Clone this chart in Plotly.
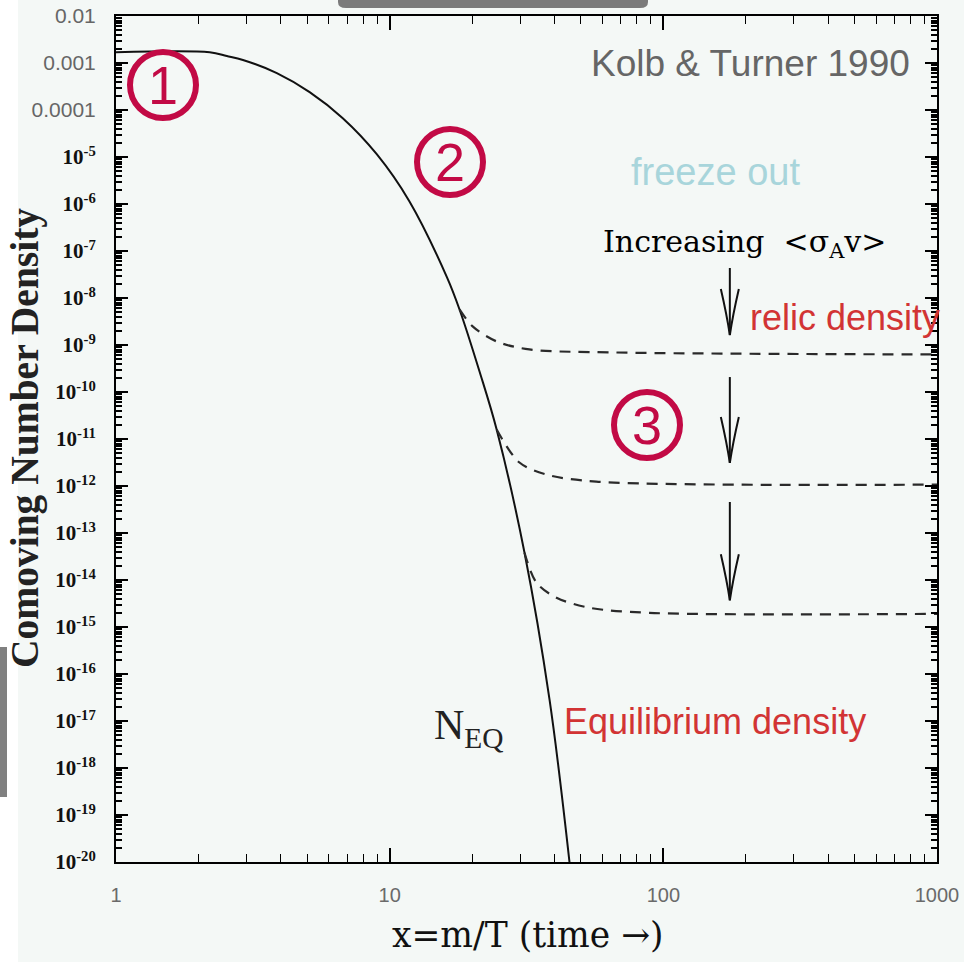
import plotly.graph_objects as go

# ---------------- data ----------------
x_eq = [1.0, 2.2, 2.54, 2.91, 3.87, 5.1, 6.74, 8.97, 11.8, 16.2, 18.0, 21.3,
        24.6, 31.1, 38.4, 45.4]
y_eq = [1.7e-3, 1.7e-3, 1.41e-3, 1.16e-3, 6.1e-4, 2.4e-4, 6.7e-5, 1.15e-5, 1.15e-6, 2.75e-8,
        5.7e-9, 2.73e-10, 1.59e-11, 3.81e-14, 2.8e-17, 1e-20]

x_relic1 = [18.0, 20.1, 24.6, 32.4, 65.2, 1000]
y_relic1 = [5.7e-9, 2.49e-9, 1.19e-9, 8.05e-10, 6.95e-10, 6.3e-10]

x_relic2 = [24.6, 29.8, 37.4, 56.9, 1000]
y_relic2 = [1.59e-11, 3.16e-12, 1.75e-12, 1.24e-12, 1.07e-12]

x_relic3 = [31.1, 34.4, 40.7, 53.7, 88.9, 1000]
y_relic3 = [3.81e-14, 8.75e-15, 4.2e-15, 2.57e-15, 2.0e-15, 1.9e-15]

# arrows "Increasing <sigma v>" (x position, tail value, tip value)
arrow_x = 175
arrow_tail = [4.35e-8, 2.08e-10, 4.57e-13]
arrow_tip = [1.63e-9, 3.1e-12, 3.7e-15]

# ticks
x_tickvals = [1, 10, 100, 1000]
x_ticktext = ["1", "10", "100", "1000"]
y_exponents = list(range(-2, -21, -1))
y_ticktext = ["0.01", "0.001", "0.0001"] + [f"10<sup>{e}</sup>" for e in range(-5, -21, -1)]

# ---------------- figure ----------------
W, H = 964, 962
L, R, T, B = 116, 27, 16, 100
BG = "#f4f8f6"
CRIMSON = "#c20a45"
RED = "#d23434"

fig = go.Figure()

fig.add_trace(go.Scatter(x=x_eq, y=y_eq, mode="lines",
                         line=dict(color="#111", width=2, shape="spline", smoothing=1.0),
                         showlegend=False, hoverinfo="skip"))
for xs, ys in [(x_relic1, y_relic1), (x_relic2, y_relic2), (x_relic3, y_relic3)]:
    fig.add_trace(go.Scatter(x=xs, y=ys, mode="lines",
                             line=dict(color="#2a2a2a", width=2.2, dash="11px,8px",
                                       shape="spline", smoothing=0.9),
                             showlegend=False, hoverinfo="skip"))
# invisible helper trace so the minor-tick overlay axes exist
fig.add_trace(go.Scatter(x=[1, 1000], y=[1e-20, 1e-2], xaxis="x2", yaxis="y2", mode="lines",
                         line=dict(width=0, color="rgba(0,0,0,0)"), showlegend=False,
                         hoverinfo="skip"))

def yfmt(t):
    if t.startswith("0."):
        return f'<span style="font-family:Liberation Sans;font-weight:normal;color:#666">{t}</span>'
    return t

y_tickvals = [10.0 ** e for e in y_exponents]
y_minor = [m * 10.0 ** e for e in range(-20, -2) for m in range(2, 10)]
x_minor = [m * 10.0 ** e for e in range(0, 3) for m in range(2, 10)]

common = dict(showgrid=False, zeroline=False, automargin=False, mirror="allticks")

fig.update_layout(
    xaxis=dict(type="log", range=[0, 3], tickmode="array", tickvals=x_tickvals,
               ticktext=x_ticktext, ticks="inside", ticklen=14, tickwidth=1.6,
               tickcolor="black", showline=True, linewidth=2, linecolor="black",
               ticklabelstandoff=14,
               tickfont=dict(family="Liberation Sans", size=20, color="#6a6a6a"), **common),
    yaxis=dict(type="log", range=[-20, -2], tickmode="array", tickvals=y_tickvals,
               ticktext=[yfmt(t) for t in y_ticktext], ticks="inside", ticklen=12,
               tickwidth=2.2, tickcolor="black", showline=True, linewidth=2,
               linecolor="black", ticklabelstandoff=14,
               tickfont=dict(family="Liberation Serif", size=21, color="#111", weight="bold"),
               **common),
    xaxis2=dict(type="log", range=[0, 3], overlaying="x", anchor="y", side="bottom",
                tickmode="array", tickvals=x_minor, ticks="inside", ticklen=8, tickwidth=1.4,
                tickcolor="black", showticklabels=False, showline=False, **common),
    yaxis2=dict(type="log", range=[-20, -2], overlaying="y", anchor="x", side="left",
                tickmode="array", tickvals=y_minor, ticks="inside", ticklen=6, tickwidth=1.5,
                tickcolor="black", showticklabels=False, showline=False, **common),
)

shapes = []
annotations = []

# white page strip at far left
shapes.append(dict(type="rect", xref="paper", yref="paper", xsizemode="pixel", ysizemode="pixel",
                   xanchor=0, yanchor=0, x0=-L, x1=-L + 18, y0=-B, y1=H - B,
                   fillcolor="white", line=dict(width=0), layer="below"))

def px2paper(px, py):
    return (px - L) / (W - L - R), (H - B - py) / (H - T - B)

# arrows: shafts + open heads
for tail, tip in zip(arrow_tail, arrow_tip):
    shapes.append(dict(type="line", xref="x", yref="y", x0=arrow_x, x1=arrow_x,
                       y0=tail, y1=tip, line=dict(color="#111", width=2)))
    shapes.append(dict(type="path", xref="x", yref="y", xsizemode="pixel", ysizemode="pixel",
                       xanchor=arrow_x, yanchor=tip,
                       path="M -9,46 Q -3,20 0,0 Q 3,20 9,46",
                       line=dict(color="#111", width=2)))

# circled numbers
for num, (cx, cy) in zip(["1", "2", "3"], [(163, 85), (450, 162), (647, 425)]):
    xp, yp = px2paper(cx, cy)
    shapes.append(dict(type="circle", xref="paper", yref="paper", xsizemode="pixel",
                       ysizemode="pixel", xanchor=xp, yanchor=yp, x0=-33, x1=33, y0=-33, y1=33,
                       line=dict(color=CRIMSON, width=6)))
    annotations.append(dict(xref="paper", yref="paper", x=xp, y=yp, text=num, showarrow=False,
                            xanchor="center", yanchor="middle",
                            font=dict(family="Liberation Sans", size=54, color=CRIMSON)))

def txt(text, px, py, size, color, family="Liberation Sans", xanchor="left", weight="normal", angle=0):
    xp, yp = px2paper(px, py)
    annotations.append(dict(xref="paper", yref="paper", x=xp, y=yp, text=text, showarrow=False,
                            xanchor=xanchor, yanchor="middle", textangle=angle,
                            font=dict(family=family, size=size, color=color, weight=weight)))

txt("Kolb &amp; Turner 1990", 912, 63, 37, "#666", xanchor="right")
txt("freeze out", 715, 172, 38, "#a8d5db", xanchor="center")
txt("Increasing  &lt;σ<sub>A</sub>v&gt;", 601, 243, 30, "#000", family="DejaVu Serif")
txt("relic density", 748, 318, 36, RED)
txt("Equilibrium density", 562, 721, 36, RED)
txt("N<sub>EQ</sub>", 432, 728, 42, "#222", family="Liberation Serif")
txt("x=m/T (time →)", 528, 935, 34.5, "#111", family="DejaVu Serif", xanchor="center")
txt("Comoving Number Density", 25, 438, 39.5, "#222", family="Liberation Serif",
    xanchor="center", weight="bold", angle=-90)

# grey UI overlays (top and left)
shapes.append(dict(type="path", xref="paper", yref="paper", xsizemode="pixel", ysizemode="pixel",
                   xanchor=0, yanchor=1,
                   path=f"M {338-L},{T} L {338-L},{T-2} Q {338-L},{T-8} {346-L},{T-8} "
                        f"L {640-L},{T-8} Q {648-L},{T-8} {648-L},{T-2} L {648-L},{T} Z",
                   fillcolor="#7b7b7b", line=dict(width=0)))
shapes.append(dict(type="rect", xref="paper", yref="paper", xsizemode="pixel", ysizemode="pixel",
                   xanchor=0, yanchor=0, x0=-L, x1=-L + 7, y0=(H - B) - 797, y1=(H - B) - 647,
                   fillcolor="#808080", line=dict(width=0)))

fig.update_layout(width=W, height=H, margin=dict(l=L, r=R, t=T, b=B),
                  paper_bgcolor=BG, plot_bgcolor=BG, shapes=shapes, annotations=annotations,
                  showlegend=False)

fig.write_html("out.html")
